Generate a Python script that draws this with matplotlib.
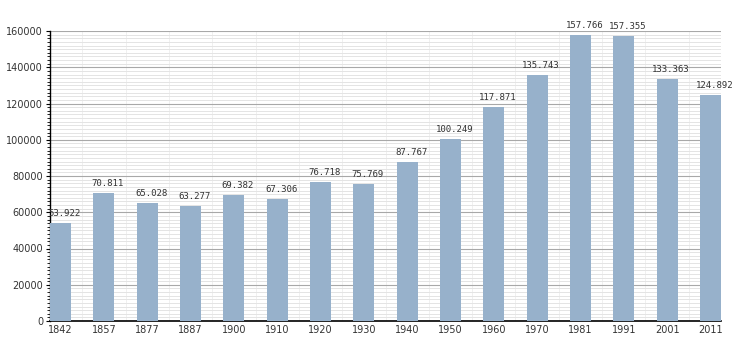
import matplotlib
matplotlib.use("Agg")
import matplotlib.pyplot as plt
from matplotlib.ticker import MultipleLocator
from matplotlib.transforms import offset_copy

years = ["1842", "1857", "1877", "1887", "1900", "1910", "1920", "1930",
         "1940", "1950", "1960", "1970", "1981", "1991", "2001", "2011"]
population = [53922, 70811, 65028, 63277, 69382, 67306, 76718, 75769,
              87767, 100249, 117871, 135743, 157766, 157355, 133363, 124892]

bar_color = "#97b1cb"
bar_width = 0.485

fig = plt.figure(figsize=(7.5, 3.5), dpi=100)
ax = fig.add_axes([50 / 750, 1 - 321 / 350, 671 / 750, 290 / 350])

x = list(range(len(years)))
ax.bar(x, population, width=bar_width, color=bar_color, zorder=3)

ax.set_xlim(-bar_width / 2, len(years) - 1 + bar_width / 2)
ax.set_ylim(0, 160000)

# grid: heavy every 20000, light every 2000, faint category separators
ax.yaxis.set_major_locator(MultipleLocator(20000))
ax.yaxis.set_minor_locator(MultipleLocator(2000))
ax.grid(axis="y", which="major", color="#a8a8a8", linewidth=0.8, zorder=1)
ax.grid(axis="y", which="minor", color="#e4e4e4", linewidth=0.7, zorder=0)
for i in range(len(years) - 1):
    ax.axvline(i + 0.5, color="#f0f0f0", linewidth=0.7, zorder=0)

ax.set_xticks(x)
ax.set_xticklabels(years)
ax.tick_params(axis="x", length=0, pad=3, labelsize=7, labelcolor="#333333")
ax.tick_params(axis="y", which="major", length=3, width=0.8, pad=2,
               labelsize=7, labelcolor="#333333", direction="out")
ax.tick_params(axis="y", which="minor", length=2, width=0.6, direction="out")
ax.set_yticklabels([str(int(v)) for v in ax.get_yticks()])

for side in ("top", "right"):
    ax.spines[side].set_visible(False)
ax.spines["left"].set_linewidth(1.0)
ax.spines["bottom"].set_linewidth(1.2)

# value labels, dotted thousands separator
label_tr = offset_copy(ax.transData, fig=fig, x=4, y=5, units="dots")
for xi, v in zip(x, population):
    txt = f"{v:,}".replace(",", ".")
    t = ax.text(xi, v, txt, transform=label_tr, ha="center", va="bottom",
                fontsize=6.5, family="DejaVu Sans Mono", color="#333333",
                zorder=4)
    if xi == 0:
        t.set_clip_on(True)

fig.savefig("out.png", dpi=100)
